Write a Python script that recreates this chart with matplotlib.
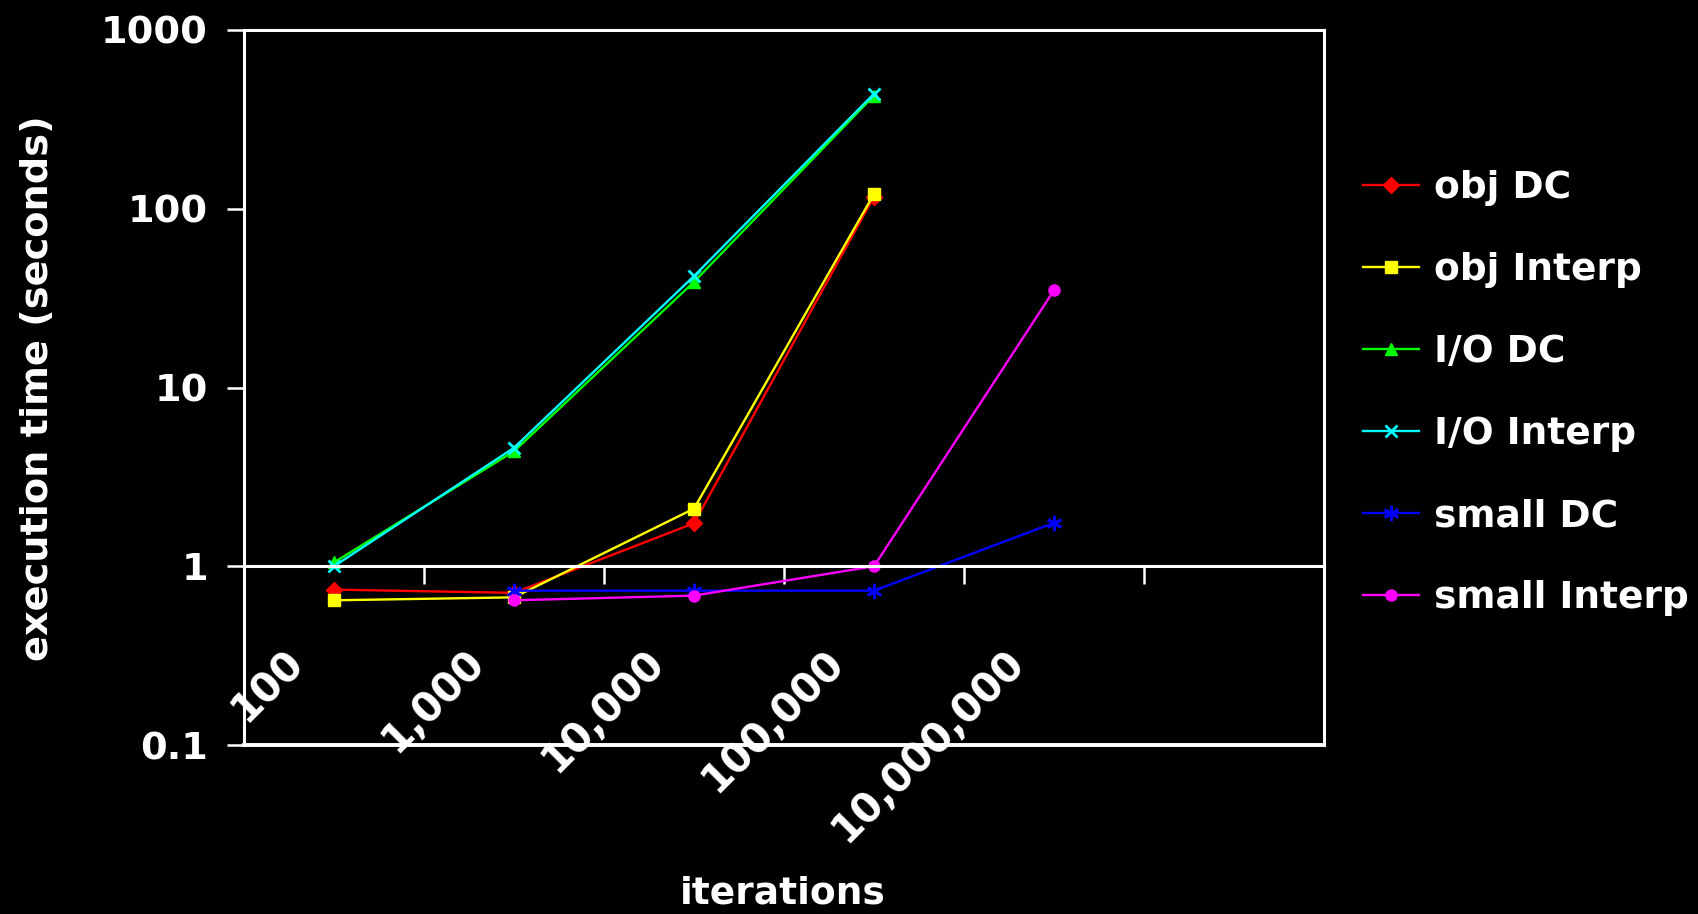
import numpy as np
import matplotlib
matplotlib.use("Agg")
import matplotlib.pyplot as plt
from matplotlib.ticker import NullLocator
from matplotlib.transforms import offset_copy

plt.rcParams['font.family'] = ['DejaVu Sans']
plt.rcParams['font.weight'] = 'bold'

categories = ["100", "1,000", "10,000", "100,000", "10,000,000", ""]
nan = np.nan
obj_dc = [0.74, 0.71, 1.74, 117, nan, nan]
obj_interp = [0.645, 0.67, 2.1, 121, nan, nan]
io_dc = [1.05, 4.4, 39, 430, nan, nan]
io_interp = [1.0, 4.6, 42, 440, nan, nan]
small_dc = [nan, 0.73, 0.73, 0.73, 1.75, nan]
small_interp = [nan, 0.645, 0.685, 1.0, 35, nan]

series = [
    ("obj DC", obj_dc, "#FF0000", "D", 8),
    ("obj Interp", obj_interp, "#FFFF00", "s", 8),
    ("I/O DC", io_dc, "#00FF00", "^", 9),
    ("I/O Interp", io_interp, "#00FFFF", "x", 9),
    ("small DC", small_dc, "#0000FF", (6, 2, 0), 11),
    ("small Interp", small_interp, "#FF00FF", "o", 8),
]
yticks = [0.1, 1, 10, 100, 1000]
ytick_labels = ["0.1", "1", "10", "100", "1000"]

W, H = 1699, 914
fig = plt.figure(figsize=(W / 100, H / 100), dpi=100, facecolor="black")
ax = fig.add_axes([244 / W, 1 - 745 / H, (1324 - 244) / W, (745 - 30) / H])
ax.set_facecolor("black")

x = np.arange(len(categories))
for name, vals, color, marker, ms in series:
    ax.plot(x, np.array(vals, dtype=float), color=color, marker=marker,
            markersize=ms, lw=1.7, mew=2 if marker in ("x", (6, 2, 0)) else 1,
            label=name)

ax.set_yscale("log")
ax.set_ylim(0.1, 1000)
ax.set_xlim(-0.5, len(categories) - 0.5)
ax.set_yticks(yticks)
ax.set_yticklabels(ytick_labels)
ax.yaxis.set_minor_locator(NullLocator())
ax.tick_params(axis="y", colors="white", labelsize=27.5, length=12, width=1.8,
               pad=14, direction="out")

# category axis crosses at y=1
ax.spines["bottom"].set_position(("data", 1))
ax.set_xticks(np.arange(len(categories) - 1) + 0.5)
ax.tick_params(axis="x", colors="white", length=13, width=1.8,
               direction="out", labelbottom=False)
for s in ax.spines.values():
    s.set_color("white")
    s.set_linewidth(2.2)
ax.plot([0, 1], [0, 0], transform=ax.transAxes, color="white", lw=2.8,
        clip_on=False)

trans = offset_copy(ax.transData, fig=fig, x=-22, y=-76, units="dots")
for i, lab in enumerate(categories):
    if lab:
        ax.text(i, 1, lab, transform=trans, rotation=45, ha="right", va="top",
                color="white", fontsize=29, fontweight="bold")

fig.text(38 / W, 1 - 388 / H, "execution time (seconds)", rotation=90,
         ha="center", va="center", color="white", fontsize=27.5,
         fontweight="bold")
fig.text(783 / W, 1 - 894 / H, "iterations", ha="center", va="center",
         color="white", fontsize=27, fontweight="bold")

leg = ax.legend(loc="center left", bbox_to_anchor=(1363 / W, 0.570),
                bbox_transform=fig.transFigure, frameon=False, fontsize=27,
                labelcolor="white", handlelength=1.5, handletextpad=0.4,
                labelspacing=1.23, borderpad=0, borderaxespad=0)

fig.savefig("out.png", dpi=100, facecolor="black")
